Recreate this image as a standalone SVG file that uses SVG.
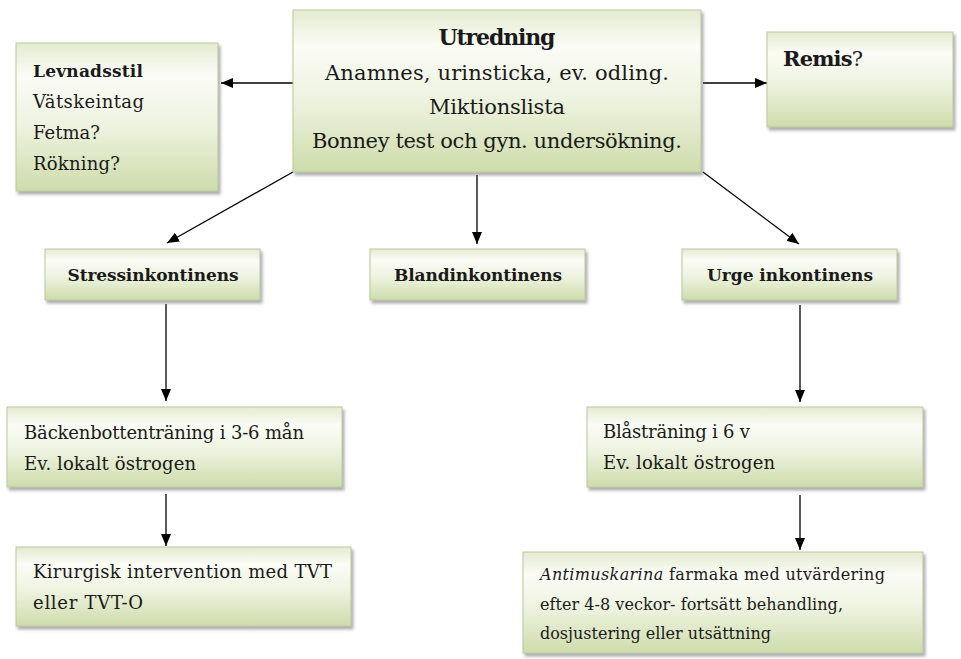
<svg xmlns="http://www.w3.org/2000/svg" width="961" height="659" viewBox="0 0 961 659">
<defs>
<linearGradient id="g" x1="0" y1="0" x2="0" y2="1">
<stop offset="0" stop-color="#e3ebd0"/>
<stop offset="0.22" stop-color="#fbfcf6"/>
<stop offset="0.55" stop-color="#eef3e0"/>
<stop offset="1" stop-color="#cedcab"/>
</linearGradient>
<filter id="sh" x="-10%" y="-10%" width="125%" height="130%">
<feDropShadow dx="2" dy="3" stdDeviation="1.5" flood-color="#6b6b6b" flood-opacity="0.55"/>
</filter>
<marker id="ah" viewBox="0 0 12 10" refX="12" refY="5" markerWidth="12" markerHeight="10" markerUnits="userSpaceOnUse" orient="auto">
<path d="M0,0 L12,5 L0,10 z" fill="#000"/>
</marker>
<style>
.box{fill:url(#g);stroke:#bcc7a0;stroke-width:1;filter:url(#sh)}
.t{font-family:"DejaVu Serif","Liberation Serif",serif;fill:#1a1a1a}
.c{text-anchor:middle}
.b{font-weight:bold}
.con line{stroke:#000;stroke-width:1.3;marker-end:url(#ah)}
</style>
</defs>
<rect width="961" height="659" fill="#fff"/>
<g class="con">
<line x1="293" y1="83" x2="221" y2="83"/>
<line x1="703" y1="83" x2="767" y2="83"/>
<line x1="293" y1="172" x2="167" y2="243"/>
<line x1="477" y1="175" x2="477" y2="244"/>
<line x1="703" y1="172" x2="799" y2="244"/>
<line x1="166" y1="304" x2="166" y2="401"/>
<line x1="166" y1="494" x2="166" y2="546"/>
<line x1="800" y1="305" x2="800" y2="402"/>
<line x1="800" y1="495" x2="800" y2="550"/>
</g>
<g id="levnadsstil">
<rect class="box" x="16" y="43" width="202" height="148"/>
<text class="t b" x="33" y="77" font-size="17" textLength="110">Levnadsstil</text>
<text class="t" x="33" y="108" font-size="18" textLength="111">Vätskeintag</text>
<text class="t" x="33" y="139" font-size="18" textLength="67">Fetma?</text>
<text class="t" x="33" y="170" font-size="18" textLength="87">Rökning?</text>
</g>
<g id="utredning">
<rect class="box" x="293" y="10" width="408" height="162"/>
<text class="t c b" x="497" y="45" font-size="22" textLength="117">Utredning</text>
<text class="t c" x="497" y="80" font-size="21" textLength="344">Anamnes, urinsticka, ev. odling.</text>
<text class="t c" x="497" y="114" font-size="21" textLength="136">Miktionslista</text>
<text class="t c" x="497" y="148" font-size="21" textLength="370">Bonney test och gyn. undersökning.</text>
</g>
<g id="remis">
<rect class="box" x="767" y="32" width="186" height="95"/>
<text class="t" x="783" y="66" font-size="21" textLength="80"><tspan class="b">Remis</tspan>?</text>
</g>
<g id="stressinkontinens">
<rect class="box" x="45" y="249" width="215" height="51"/>
<text class="t c b" x="153" y="281" font-size="17" textLength="171">Stressinkontinens</text>
</g>
<g id="blandinkontinens">
<rect class="box" x="370" y="249" width="215" height="51"/>
<text class="t c b" x="478" y="281" font-size="17" textLength="168">Blandinkontinens</text>
</g>
<g id="urgeinkontinens">
<rect class="box" x="682" y="249" width="215" height="51"/>
<text class="t c b" x="790" y="281" font-size="17" textLength="166">Urge inkontinens</text>
</g>
<g id="backenbotten">
<rect class="box" x="7" y="407" width="335" height="80"/>
<text class="t" x="24" y="439" font-size="18" textLength="280">Bäckenbottenträning i 3-6 mån</text>
<text class="t" x="24" y="470" font-size="18" textLength="172">Ev. lokalt östrogen</text>
</g>
<g id="kirurgisk">
<rect class="box" x="16" y="547" width="335" height="79"/>
<text class="t" x="33" y="578" font-size="18" textLength="299">Kirurgisk intervention med TVT</text>
<text class="t" x="33" y="609" font-size="18" textLength="110">eller TVT-O</text>
</g>
<g id="blastraning">
<rect class="box" x="587" y="407" width="336" height="80"/>
<text class="t" x="603" y="438" font-size="18" textLength="147">Blåsträning i 6 v</text>
<text class="t" x="603" y="469" font-size="18" textLength="172">Ev. lokalt östrogen</text>
</g>
<g id="antimuskarina">
<rect class="box" x="523" y="552" width="400" height="101"/>
<text class="t" x="540" y="580" font-size="16" textLength="345"><tspan font-style="italic">Antimuskarina</tspan> farmaka med utvärdering</text>
<text class="t" x="540" y="610" font-size="16" textLength="303">efter 4-8 veckor- fortsätt behandling,</text>
<text class="t" x="540" y="639" font-size="16" textLength="231">dosjustering eller utsättning</text>
</g>
</svg>
